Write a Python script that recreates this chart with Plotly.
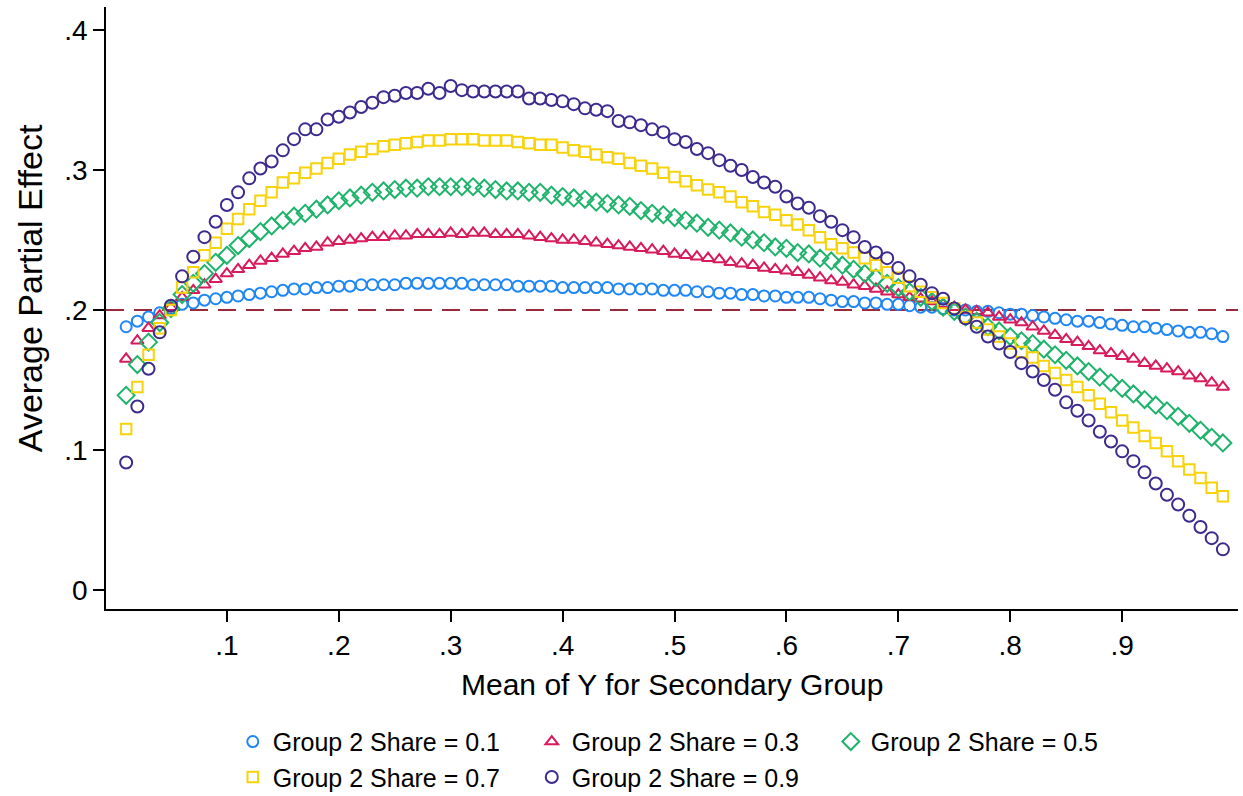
import plotly.graph_objects as go

mean_y = [
    0.01, 0.02, 0.03, 0.04, 0.05, 0.06, 0.07, 0.08, 0.09, 0.10,
    0.11, 0.12, 0.13, 0.14, 0.15, 0.16, 0.17, 0.18, 0.19, 0.20,
    0.21, 0.22, 0.23, 0.24, 0.25, 0.26, 0.27, 0.28, 0.29, 0.30,
    0.31, 0.32, 0.33, 0.34, 0.35, 0.36, 0.37, 0.38, 0.39, 0.40,
    0.41, 0.42, 0.43, 0.44, 0.45, 0.46, 0.47, 0.48, 0.49, 0.50,
    0.51, 0.52, 0.53, 0.54, 0.55, 0.56, 0.57, 0.58, 0.59, 0.60,
    0.61, 0.62, 0.63, 0.64, 0.65, 0.66, 0.67, 0.68, 0.69, 0.70,
    0.71, 0.72, 0.73, 0.74, 0.75, 0.76, 0.77, 0.78, 0.79, 0.80,
    0.81, 0.82, 0.83, 0.84, 0.85, 0.86, 0.87, 0.88, 0.89, 0.90,
    0.91, 0.92, 0.93, 0.94, 0.95, 0.96, 0.97, 0.98, 0.99,
]

share_01 = [
    0.188, 0.192, 0.195, 0.198, 0.201, 0.204, 0.205, 0.207, 0.208, 0.209,
    0.210, 0.211, 0.212, 0.213, 0.214, 0.215, 0.215, 0.216, 0.216, 0.217,
    0.217, 0.218, 0.218, 0.218, 0.218, 0.219, 0.219, 0.219, 0.219, 0.219,
    0.219, 0.218, 0.218, 0.218, 0.218, 0.217, 0.217, 0.217, 0.217, 0.216,
    0.216, 0.216, 0.216, 0.216, 0.215, 0.215, 0.215, 0.215, 0.214, 0.214,
    0.214, 0.213, 0.213, 0.212, 0.212, 0.211, 0.211, 0.210, 0.210, 0.209,
    0.209, 0.209, 0.208, 0.207, 0.206, 0.206, 0.205, 0.205, 0.204, 0.204,
    0.203, 0.202, 0.202, 0.201, 0.200, 0.200, 0.199, 0.199, 0.198, 0.197,
    0.197, 0.196, 0.195, 0.194, 0.193, 0.192, 0.192, 0.191, 0.190, 0.189,
    0.188, 0.188, 0.187, 0.186, 0.185, 0.184, 0.184, 0.183, 0.181,
]

share_03 = [
    0.165, 0.178, 0.187, 0.196, 0.202, 0.209, 0.214, 0.218, 0.222, 0.226,
    0.229, 0.232, 0.235, 0.237, 0.240, 0.242, 0.244, 0.245, 0.248, 0.249,
    0.250, 0.251, 0.252, 0.252, 0.253, 0.253, 0.254, 0.254, 0.254, 0.255,
    0.254, 0.255, 0.255, 0.254, 0.254, 0.254, 0.253, 0.252, 0.251, 0.250,
    0.250, 0.249, 0.248, 0.247, 0.246, 0.245, 0.244, 0.243, 0.242, 0.240,
    0.239, 0.238, 0.237, 0.236, 0.234, 0.233, 0.232, 0.230, 0.229, 0.228,
    0.227, 0.225, 0.223, 0.221, 0.220, 0.218, 0.217, 0.215, 0.213, 0.211,
    0.209, 0.208, 0.206, 0.204, 0.202, 0.200, 0.199, 0.198, 0.195, 0.193,
    0.191, 0.188, 0.185, 0.182, 0.179, 0.177, 0.174, 0.171, 0.169, 0.167,
    0.165, 0.162, 0.160, 0.158, 0.156, 0.153, 0.151, 0.148, 0.145,
]

share_05 = [
    0.139, 0.161, 0.177, 0.191, 0.201, 0.211, 0.219, 0.226, 0.234, 0.239,
    0.246, 0.251, 0.256, 0.260, 0.264, 0.267, 0.269, 0.272, 0.275, 0.278,
    0.280, 0.282, 0.284, 0.285, 0.286, 0.287, 0.287, 0.288, 0.288, 0.288,
    0.288, 0.288, 0.287, 0.286, 0.285, 0.285, 0.284, 0.284, 0.282, 0.281,
    0.280, 0.279, 0.277, 0.276, 0.275, 0.274, 0.271, 0.269, 0.268, 0.266,
    0.264, 0.262, 0.259, 0.257, 0.255, 0.252, 0.250, 0.248, 0.245, 0.244,
    0.241, 0.240, 0.237, 0.235, 0.232, 0.229, 0.226, 0.223, 0.219, 0.216,
    0.213, 0.209, 0.206, 0.202, 0.199, 0.195, 0.192, 0.188, 0.185, 0.181,
    0.178, 0.176, 0.172, 0.168, 0.164, 0.160, 0.156, 0.152, 0.148, 0.144,
    0.140, 0.136, 0.132, 0.128, 0.124, 0.119, 0.114, 0.109, 0.105,
]

share_07 = [
    0.115, 0.145, 0.168, 0.187, 0.200, 0.216, 0.227, 0.239, 0.248, 0.258,
    0.265, 0.272, 0.278, 0.284, 0.291, 0.294, 0.298, 0.301, 0.305, 0.308,
    0.311, 0.313, 0.315, 0.317, 0.318, 0.319, 0.320, 0.321, 0.321, 0.322,
    0.322, 0.322, 0.321, 0.321, 0.321, 0.320, 0.319, 0.318, 0.318, 0.316,
    0.314, 0.313, 0.311, 0.309, 0.308, 0.305, 0.303, 0.301, 0.298, 0.295,
    0.292, 0.289, 0.286, 0.284, 0.281, 0.277, 0.274, 0.270, 0.268, 0.264,
    0.261, 0.257, 0.252, 0.247, 0.244, 0.241, 0.237, 0.232, 0.227, 0.223,
    0.217, 0.213, 0.209, 0.205, 0.201, 0.195, 0.191, 0.186, 0.181, 0.176,
    0.170, 0.166, 0.160, 0.155, 0.150, 0.145, 0.139, 0.133, 0.127, 0.121,
    0.116, 0.110, 0.105, 0.099, 0.092, 0.086, 0.080, 0.073, 0.067,
]

share_09 = [
    0.091, 0.131, 0.158, 0.184, 0.203, 0.224, 0.238, 0.252, 0.263, 0.275,
    0.284, 0.294, 0.301, 0.306, 0.314, 0.322, 0.329, 0.329, 0.336, 0.338,
    0.341, 0.345, 0.348, 0.352, 0.353, 0.355, 0.355, 0.358, 0.355, 0.360,
    0.357, 0.356, 0.356, 0.356, 0.356, 0.356, 0.351, 0.351, 0.350, 0.349,
    0.347, 0.344, 0.343, 0.342, 0.335, 0.334, 0.332, 0.329, 0.327, 0.322,
    0.320, 0.315, 0.312, 0.307, 0.303, 0.300, 0.295, 0.291, 0.288, 0.281,
    0.276, 0.273, 0.267, 0.263, 0.257, 0.252, 0.245, 0.241, 0.237, 0.230,
    0.224, 0.218, 0.212, 0.208, 0.201, 0.194, 0.188, 0.181, 0.176, 0.170,
    0.162, 0.156, 0.150, 0.143, 0.134, 0.128, 0.121, 0.113, 0.106, 0.099,
    0.092, 0.084, 0.076, 0.068, 0.061, 0.053, 0.045, 0.037, 0.029,
]

series_names = [
    "Group 2 Share = 0.1",
    "Group 2 Share = 0.3",
    "Group 2 Share = 0.5",
    "Group 2 Share = 0.7",
    "Group 2 Share = 0.9",
]
series_values = [share_01, share_03, share_05, share_07, share_09]

reference_value = 0.2

x_tickvals = [0.1, 0.2, 0.3, 0.4, 0.5, 0.6, 0.7, 0.8, 0.9]
x_ticktext = [".1", ".2", ".3", ".4", ".5", ".6", ".7", ".8", ".9"]
y_tickvals = [0, 0.1, 0.2, 0.3, 0.4]
y_ticktext = ["0", ".1", ".2", ".3", ".4"]

styles = [
    dict(symbol="circle-open", color="#1f87f5", size=11),
    dict(symbol="triangle-up-open", color="#d81b5b", size=11),
    dict(symbol="diamond-open", color="#1fb36c", size=13),
    dict(symbol="square-open", color="#f8d20a", size=10.5),
    dict(symbol="circle-open", color="#3d2a8e", size=12),
]

FONT = "Liberation Sans, Arial, Helvetica, sans-serif"

fig = go.Figure()
for name, vals, st in zip(series_names, series_values, styles):
    fig.add_trace(go.Scatter(
        x=mean_y, y=vals, mode="markers", name=name,
        marker=dict(symbol=st["symbol"], size=st["size"], color=st["color"],
                    line=dict(width=2, color=st["color"])),
    ))

fig.add_shape(type="line", xref="paper", x0=0, x1=1, yref="y",
              y0=reference_value, y1=reference_value,
              line=dict(color="#9a2a3a", width=2, dash="18px,10px"), layer="below")

fig.update_layout(
    width=1243, height=796,
    margin=dict(l=106, r=5, t=7, b=187, autoexpand=False),
    paper_bgcolor="white", plot_bgcolor="white",
    font=dict(family=FONT, color="black", size=25),
    showlegend=True,
    legend=dict(
        orientation="h", xref="paper", x=0.112, xanchor="left",
        yref="container", y=0.097, yanchor="top",
        entrywidth=254, entrywidthmode="pixels",
        font=dict(size=25, family=FONT, color="black"),
        bgcolor="rgba(0,0,0,0)", traceorder="normal",
    ),
    xaxis=dict(
        range=[-0.008, 1.0035], showgrid=False, zeroline=False,
        showline=True, linecolor="black", linewidth=1.5,
        ticks="outside", ticklen=11, tickwidth=1.5, tickcolor="black",
        tickvals=x_tickvals, ticktext=x_ticktext,
        tickfont=dict(size=28, family=FONT), ticklabelstandoff=0,
        automargin=False,
    ),
    yaxis=dict(
        range=[-0.0136, 0.4164], showgrid=False, zeroline=False,
        showline=True, linecolor="black", linewidth=1.5,
        ticks="outside", ticklen=11, tickwidth=1.5, tickcolor="black",
        tickvals=y_tickvals, ticktext=y_ticktext,
        tickfont=dict(size=28, family=FONT), ticklabelstandoff=0,
        automargin=False,
    ),
    annotations=[
        dict(text="Mean of Y for Secondary Group", xref="paper", yref="paper",
             x=0.5, y=-0.126, xanchor="center", yanchor="middle",
             showarrow=False, font=dict(size=30, family=FONT)),
        dict(text="Average Partial Effect", xref="paper", yref="paper",
             x=-0.0671, y=0.533, xanchor="center", yanchor="middle",
             textangle=-90, showarrow=False, font=dict(size=34, family=FONT)),
    ],
)

fig.write_html("out.html")
